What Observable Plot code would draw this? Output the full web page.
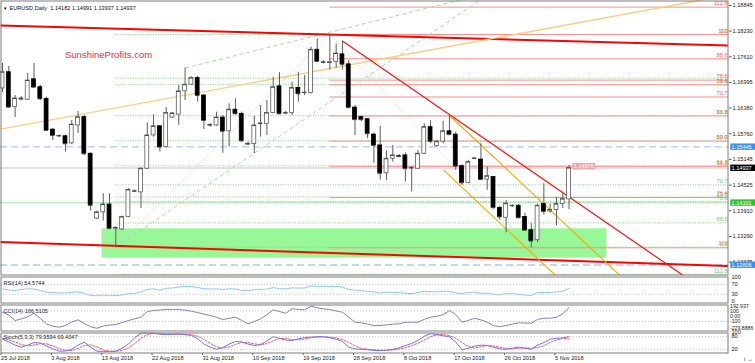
<!DOCTYPE html>
<html><head><meta charset="utf-8">
<script src="https://cdn.jsdelivr.net/npm/d3@7"></script>
<script src="https://cdn.jsdelivr.net/npm/@observablehq/plot@0.6"></script>
<style>
body{margin:0;background:#fff;}
#wrap{position:relative;width:755px;height:363px;overflow:hidden;background:#fff;}
#wrap svg{position:absolute;left:0;}
</style></head><body><div id="wrap"></div>
<script>
// ---------- DATA (bar index 0 = 25 Jul 2018, daily bars incl. Sunday bars) ----------
const opens  = [1.1685,1.1724,1.1640,1.1658,1.1658,1.1707,1.1688,1.1660,1.1586,1.1570,1.1570,1.1553,1.1596,1.1616,1.1528,1.1372,1.1387,1.1406,1.1348,1.1346,1.1376,1.1437,1.1435,1.1492,1.1572,1.1594,1.1544,1.1615,1.1622,1.1678,1.1694,1.1710,1.1668,1.1596,1.1596,1.1615,1.1582,1.1634,1.1624,1.1550,1.1551,1.1600,1.1600,1.1626,1.1690,1.1625,1.1626,1.1686,1.1674,1.1674,1.1778,1.1747,1.1746,1.1749,1.1767,1.1743,1.1639,1.1616,1.1611,1.1574,1.1548,1.1481,1.1516,1.1522,1.1524,1.1493,1.1492,1.1528,1.1592,1.1547,1.1557,1.1582,1.1574,1.1498,1.1458,1.1516,1.1514,1.1466,1.1472,1.1398,1.1374,1.1402,1.1403,1.1376,1.1344,1.1320,1.1407,1.1389,1.1393,1.1407,1.14182];
const highs  = [1.1745,1.1738,1.1668,1.1665,1.1721,1.1745,1.1692,1.1664,1.1589,1.1573,1.1573,1.1608,1.1630,1.1620,1.1530,1.1390,1.1432,1.1432,1.1352,1.1378,1.1444,1.1441,1.1494,1.1602,1.1622,1.1596,1.1639,1.1627,1.1692,1.1734,1.1713,1.1714,1.1670,1.1600,1.1628,1.1620,1.1648,1.1660,1.1628,1.1556,1.1618,1.1644,1.1656,1.1712,1.1723,1.1630,1.1700,1.1724,1.1716,1.1784,1.1804,1.1752,1.18148,1.1792,1.1799,1.1752,1.1644,1.1618,1.1612,1.1578,1.1594,1.1534,1.1548,1.1526,1.1530,1.1497,1.1536,1.1600,1.1608,1.1560,1.1606,1.1620,1.1580,1.1502,1.1512,1.1518,1.1552,1.1496,1.1473,1.1401,1.1416,1.1405,1.1406,1.1385,1.1360,1.1407,1.1456,1.1407,1.1423,1.1432,1.14991];
const lows   = [1.1675,1.1637,1.1615,1.1655,1.1656,1.1685,1.1656,1.1583,1.1560,1.1567,1.1532,1.1550,1.1577,1.1524,1.1390,1.1370,1.1366,1.1346,1.13034,1.1343,1.1374,1.1435,1.1396,1.1490,1.1568,1.1532,1.1542,1.1613,1.1596,1.1656,1.1692,1.1652,1.1586,1.1592,1.1594,1.1529,1.1544,1.1622,1.1556,1.1548,1.1528,1.1568,1.1572,1.1624,1.1622,1.1622,1.1620,1.1652,1.1668,1.1672,1.1748,1.1744,1.1729,1.1733,1.1729,1.1636,1.1572,1.1605,1.1564,1.1505,1.1465,1.1464,1.1508,1.1519,1.1460,1.1436,1.1490,1.1526,1.1553,1.1543,1.1552,1.1572,1.1488,1.1452,1.1456,1.1514,1.1464,1.1440,1.1396,1.1368,1.1338,1.1399,1.1372,1.1343,1.13018,1.1314,1.1380,1.1385,1.1355,1.1396,1.13937];
const closes = [1.1724,1.1640,1.1661,1.1661,1.1704,1.1688,1.1660,1.1584,1.1572,1.1571,1.1552,1.1598,1.1616,1.1528,1.1404,1.1387,1.1406,1.1348,1.1350,1.1376,1.1441,1.1438,1.1492,1.1572,1.1594,1.1544,1.1626,1.1625,1.1678,1.1694,1.1710,1.1668,1.1608,1.1597,1.1615,1.1582,1.1634,1.1624,1.1559,1.1552,1.1596,1.1601,1.1626,1.1688,1.1624,1.1626,1.1686,1.1672,1.1675,1.1778,1.1750,1.1748,1.1748,1.1769,1.1743,1.1639,1.1610,1.1610,1.1576,1.1548,1.1481,1.1516,1.1524,1.1521,1.1492,1.1494,1.1528,1.1592,1.1558,1.1557,1.1582,1.1574,1.1498,1.1458,1.1508,1.1517,1.1466,1.1474,1.1398,1.1376,1.1408,1.1403,1.1374,1.1344,1.1318,1.1403,1.1389,1.1393,1.1407,1.1419,1.14937];

const rsi = [53,48,46,50,53, 52,46,39,37,36, 35,38,40,33,25, 24,27,24,25,27, 33,34,40,50,53, 47,55,56,60,62, 63,58,53,52,53, 50,53,52,46,45, 49,50,52,58,53, 53,57,56,56,65, 63,63,62,63,60, 50,47,46,42,40, 35,38,38,37,34, 33,37,43,41,40, 43,42,36,33,38, 39,34,35,30,28, 33,33,30,27,25, 38,37,38,40,43, 54.5744];
const cci = [76,20,-82,-50,-10, 57,-40,-150,-190,-209, -177,-110,-69,-140,-200, -229.8886,-185,-170,-158,-120, -82,-50,-19,90,108, 118,127,127,127,115, 95,70,40,13,-20, -63,-40,-19,-80,-145, -100,-50,30,122,90, 57,141,130,122,192.937, 160,140,127,100,76, -20,-114,-126,-150,-177, -177,-165,-150,-145,-114, -114,-114,-60,-19,0, 27,108,30,-114,-80, -38,-70,-114,-180,-196, -177,-150,-126,-130,-133, -60,-38,-38,-20,46, 166.5105];
const stochMain = [69,55,40,30,40, 52,50,35,22,11, 12,20,40,54,30, 11,10,10,11,25, 45,75,97,98,96, 92,90,92,93,90, 86,70,45,30,20, 28,45,57,55,45, 38,42,60,80,72, 64,62,70,76,78, 80,80,75,68,58, 30,22,20,18,15, 14,16,20,27,38, 48,62,82,95,90, 84,80,55,18,25, 35,40,38,30,22, 20,25,30,25,20, 40,52,68,72,74, 79.9594];
const stochSignal = [72,65,55,42,37, 40,47,46,36,23, 15,14,24,38,41, 32,17,10,10,15, 27,48,72,90,97, 95,93,91,92,91, 90,82,67,48,32, 26,31,43,52,52, 46,42,47,60,71, 72,66,65,69,75, 78,79,78,74,67, 52,37,24,20,18, 16,15,17,21,28, 38,49,64,80,89, 90,85,73,52,33, 26,33,38,36,30, 24,22,25,27,25, 28,37,53,64,71, 69.4047];

const dateTickBars = [0,8,16,24,32,40,48,56,64,72,80,88];
const dateLabels = ["25 Jul 2018","3 Aug 2018","13 Aug 2018","22 Aug 2018","31 Aug 2018","10 Sep 2018","19 Sep 2018","28 Sep 2018","8 Oct 2018","17 Oct 2018","26 Oct 2018","5 Nov 2018"];
const priceTicks = [1.18845,1.18230,1.17610,1.16995,1.16380,1.15760,1.15145,1.14525,1.13910,1.13290,1.12675];
const rsiTicks = [100,70,30,0];
const cciTicks = [192.937,100,0,-100,-229.8886];
const cciTickLabels = ["192.937","100","0.00","-100","-229.8886"];
const stochTicks = [100,80,20];

// Fibonacci levels (percent) and labels
const fibLevels = [0,23.6,38.2,50,61.8,70.7,76.4,78.6,88.6,100,112.8];
const fibLabels = ["0.0","23.6","38.2","50.0","61.8","70.7","76.4","78.6","88.6","100","112.8"];
// anchors: bar index of swing points
const swingLowA = 18, swingHigh = 52, swingLowB = 84;

// horizontal lines
const blueDashed = [1.15445, 1.12606];
const priceLine = 1.14937;
const supportLine = 1.14101;
const extraGreenDotted = [1.17097];
const zone = {start: 15.8, end: 96, low: 1.12770, high: 1.13475};

// trend lines: [[bar, price],[bar, price]], and whether extended
const trendLines = [
  {a:[0,1.18360], b:[52,1.18145], from:-1, stroke:"#ff0000", w:2, dash:null},
  {a:[0,1.13154], b:[84,1.12736], from:-1, stroke:"#ff0000", w:2, dash:null},
  {a:[0,1.15880], b:[52,1.17330], from:-1, stroke:"#ffcc80", w:1.4, dash:null},
  {a:[54,1.17990], b:[71,1.16220], from:54, stroke:"#ff1010", w:1.2, dash:null},
  {a:[71,1.16200], b:[90,1.13500], from:71, stroke:"#ffa500", w:1.1, dash:null},
  {a:[70,1.14900], b:[85,1.12760], from:70, stroke:"#ffa500", w:1.1, dash:null},
  {a:[29,1.17340], b:[57,1.18390], from:29, stroke:"#9ee09e", w:1, dash:"4,3"},
  {a:[18,1.13034], b:[43,1.15600], from:18, stroke:"#9ee09e", w:1, dash:"4,3"}
];
const dottedSegments = [
  {a:[18,1.13034], b:[52,1.18148]},
  {a:[52,1.18148], b:[84,1.13018]}
];

const priceBoxes = [
  {p:1.15445, bg:"#3b8ff0"},
  {p:1.14937, bg:"#000000"},
  {p:1.14101, bg:"#2fc22f"},
  {p:1.12606, bg:"#3b8ff0"}
];
const lastHighLabel = {i:90, text:"1.14976", p:1.14976};

// ---------- LAYOUT ----------
const W = 755, AXIS_W = 27;
const X_DOMAIN = [-0.32, 115.33];
const FONT = "'Liberation Sans', Arial, sans-serif";
const style = {fontFamily: FONT, fontSize: "5.6px", background: "transparent", overflow: "visible", color: "#000"};
const FRAME = "#7d7d7d";

const candles = opens.map((o, i) => ({i, o, h: highs[i], l: lows[i], c: closes[i]}));
const hi = highs[swingHigh], loA = lows[swingLowA], loB = lows[swingLowB];
const redFib = fibLevels.map((L, k) => ({p: loB + L / 100 * (hi - loB), label: fibLabels[k]}));
const greenFib = fibLevels.map((L, k) => ({p: hi - L / 100 * (hi - loA), label: fibLabels[k]}));

function extendSeg(t) {
  const s = (t.b[1] - t.a[1]) / (t.b[0] - t.a[0]);
  const x1 = t.from < 0 ? X_DOMAIN[0] : t.from, x2 = X_DOMAIN[1];
  return {x1, y1: t.a[1] + (x1 - t.a[0]) * s, x2, y2: t.a[1] + (x2 - t.a[0]) * s, stroke: t.stroke, w: t.w, dash: t.dash};
}
const segs = trendLines.map(extendSeg);
const solidSegs = segs.filter(s => !s.dash), dashSegs = segs.filter(s => s.dash);
const hw = 0.31;

const main = Plot.plot({
  width: W, height: 275, marginLeft: 0, marginRight: AXIS_W, marginTop: 0, marginBottom: 0,
  x: {domain: X_DOMAIN, axis: null},
  y: {domain: [1.12352, 1.18965], axis: null},
  style,
  marks: [
    Plot.rect([zone], {x1: "start", x2: "end", y1: "low", y2: "high", fill: "#98f898"}),
    Plot.ruleY(greenFib, {y: "p", x1: () => swingLowA, x2: () => X_DOMAIN[1], stroke: "#7fd07f", strokeDasharray: "1,1.5"}),
    Plot.ruleY(extraGreenDotted, {y: d => d, x1: () => swingLowA, x2: () => X_DOMAIN[1], stroke: "#7fd07f", strokeDasharray: "1,1.5"}),
    Plot.ruleY(redFib, {y: "p", x1: () => swingHigh, x2: () => X_DOMAIN[1], stroke: "#ff8c8c", strokeWidth: 1}),
    Plot.ruleY(blueDashed, {y: d => d, stroke: "#a9cdf6", strokeWidth: 1.4, strokeDasharray: "7,4"}),
    Plot.ruleY([priceLine], {y: d => d, stroke: "#c4c4c4"}),
    Plot.ruleY([supportLine], {y: d => d, stroke: "#a6e2a6", strokeWidth: 1.2}),
    Plot.link(dottedSegments, {x1: d => d.a[0], y1: d => d.a[1], x2: d => d.b[0], y2: d => d.b[1], stroke: "#c8c8c8", strokeDasharray: "1,2"}),
    Plot.link(dashSegs, {x1: "x1", y1: "y1", x2: "x2", y2: "y2", stroke: d => d.stroke, strokeWidth: 1, strokeDasharray: "4,3", clip: true}),
    Plot.link(solidSegs, {x1: "x1", y1: "y1", x2: "x2", y2: "y2", stroke: d => d.stroke, strokeWidth: d => d.w, clip: true}),
    Plot.ruleX(candles, {x: "i", y1: "l", y2: "h", stroke: "#5c5c5c", strokeWidth: 1}),
    Plot.rect(candles, {x1: d => d.i - hw, x2: d => d.i + hw, y1: "o", y2: "c",
      fill: d => d.c >= d.o ? "#ffffff" : "#000000", stroke: d => d.c >= d.o ? "#5c5c5c" : "#000000", strokeWidth: 0.8}),
    Plot.ruleY(candles, {y: "c", x1: d => d.i - hw, x2: d => d.i + hw, stroke: "#444"}),
    Plot.text(greenFib, {y: "p", text: "label", frameAnchor: "right", textAnchor: "end", dx: -1, dy: -3.6, fill: "#6cc86c"}),
    Plot.text(redFib, {y: "p", text: "label", frameAnchor: "right", textAnchor: "end", dx: -1, dy: -3.6, fill: "#ff5c5c"}),
    Plot.axisY(priceTicks, {anchor: "right", tickSize: 2.5, tickPadding: 1.5, tickFormat: d => d.toFixed(5), stroke: "#555", fill: "#222"}),
    Plot.text(priceBoxes, {y: "p", text: d => d.p.toFixed(5), frameAnchor: "right", textAnchor: "start", dx: 3, fill: "#ffffff"}),
    Plot.text([lastHighLabel], {x: "i", y: "p", text: "text", textAnchor: "start", dx: 4.5, fill: "#ffffff"}),
    Plot.text(["SunshineProfits.com"], {text: d => d, frameAnchor: "top-left", dx: 64.5, dy: 51, textAnchor: "start", fill: "#e3304c", fontSize: 9.5}),
    Plot.text(["\u25BC"], {text: d => d, frameAnchor: "top-left", dx: 2.5, dy: 6, textAnchor: "start", fill: "#000", fontSize: 4.5}),
    Plot.text(["EURUSD,Daily  1.14182 1.14991 1.13937 1.14937"], {text: d => d, frameAnchor: "top-left", dx: 9, dy: 6, textAnchor: "start", fill: "#111"}),
    Plot.frame({stroke: FRAME, inset: 0.5})
  ]
});

function indicatorPlot({height, yDomain, yRange, marginBottom = 0, marks}) {
  return Plot.plot({
    width: W, height, marginLeft: 0, marginRight: AXIS_W, marginTop: 0, marginBottom,
    x: {domain: X_DOMAIN, axis: null},
    y: {domain: yDomain, range: yRange, axis: null},
    style,
    marks: [...marks, Plot.frame({stroke: FRAME, inset: 0.5})]
  });
}
const idx = a => a.map((v, i) => ({i, v}));

const rsiPlot = indicatorPlot({height: 27, yDomain: [0, 100], yRange: [25, 1], marks: [
  Plot.ruleY([70, 30], {y: d => d, stroke: "#c8c8c8", strokeDasharray: "1,2"}),
  Plot.line(idx(rsi), {x: "i", y: "v", stroke: "#8cc6ff", strokeWidth: 1}),
  Plot.text(["RSI(14) 54.5744"], {text: d => d, frameAnchor: "top-left", dx: 3, dy: 4.5, textAnchor: "start", fill: "#222"}),
  Plot.text(rsiTicks, {y: d => d, text: d => String(d), frameAnchor: "right", textAnchor: "start", dx: 3, fill: "#222"})
]});

const cciPlot = indicatorPlot({height: 27, yDomain: [-229.8886, 192.937], yRange: [23.8, 1.6], marks: [
  Plot.ruleY([100, -100], {y: d => d, stroke: "#c8c8c8", strokeDasharray: "1,2"}),
  Plot.line(idx(cci), {x: "i", y: "v", stroke: "#8282c4", strokeWidth: 1}),
  Plot.text(["CCI(14) 166.5105"], {text: d => d, frameAnchor: "top-left", dx: 3, dy: 4.5, textAnchor: "start", fill: "#222"}),
  Plot.text(cciTicks, {y: d => d, text: (d, k) => cciTickLabels[k], frameAnchor: "right", textAnchor: "start", dx: 1.5, fill: "#222", fontSize: 5.2})
]});

const stochPlot = indicatorPlot({height: 31, marginBottom: 10, yDomain: [0, 100], yRange: [21, 0], marks: [
  Plot.ruleY([80, 20], {y: d => d, stroke: "#c8c8c8", strokeDasharray: "1,2"}),
  Plot.line(idx(stochSignal), {x: "i", y: "v", stroke: "#ff5a5a", strokeWidth: 1, strokeDasharray: "2,1.5"}),
  Plot.line(idx(stochMain), {x: "i", y: "v", stroke: "#6e6eff", strokeWidth: 1}),
  Plot.text(["Stoch(5,3,3) 79.9594 69.4047"], {text: d => d, frameAnchor: "top-left", dx: 3, dy: 3, textAnchor: "start", fill: "#222"}),
  Plot.text(stochTicks, {y: d => d, text: d => String(d), frameAnchor: "right", textAnchor: "start", dx: 3, fill: "#222"}),
  Plot.axisX(dateTickBars, {anchor: "bottom", tickSize: 2, tickPadding: 1, tickFormat: (d, k) => dateLabels[dateTickBars.indexOf(d)], textAnchor: "start", dx: -1.5, stroke: "#555", fill: "#222"})
]});

const wrap = document.getElementById("wrap");
[[main, 0], [rsiPlot, 276], [cciPlot, 304], [stochPlot, 332]].forEach(([svg, top]) => {
  svg.style.top = top + "px";
  wrap.appendChild(svg);
});

// background boxes behind price labels
function addBoxes(svg, specs) {
  svg.querySelectorAll("text").forEach(t => {
    const s = specs.find(s => s.text === t.textContent);
    if (!s) return;
    const bb = t.getBBox();
    const r = document.createElementNS("http://www.w3.org/2000/svg", "rect");
    r.setAttribute("x", bb.x - 1.2);
    r.setAttribute("y", bb.y - 0.2);
    r.setAttribute("width", s.full ? 40 : bb.width + 2.4);
    r.setAttribute("height", bb.height + 0.4);
    r.setAttribute("fill", s.bg);
    const tr = t.getAttribute("transform");
    if (tr) r.setAttribute("transform", tr);
    t.parentNode.insertBefore(r, t);
  });
}
addBoxes(main, [
  ...priceBoxes.map(b => ({text: b.p.toFixed(5), bg: b.bg, full: true})),
  {text: lastHighLabel.text, bg: "#f5a3a3", full: false}
]);
</script>
</body></html>
